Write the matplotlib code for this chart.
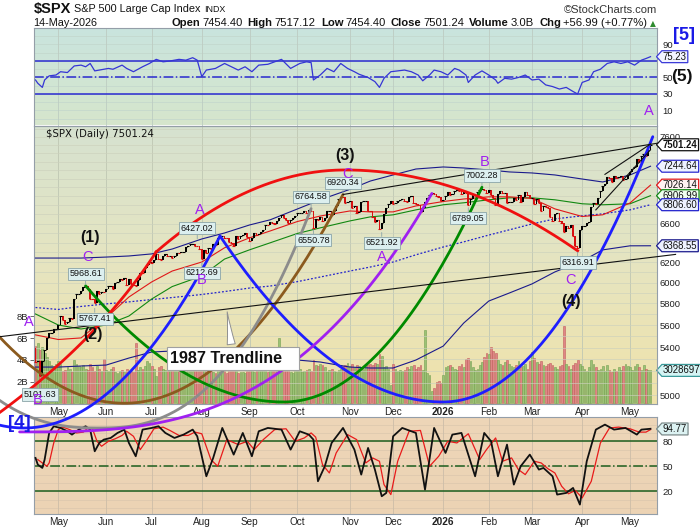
import numpy as np
import pandas as pd
import matplotlib
matplotlib.use("Agg")
import matplotlib.pyplot as plt
import matplotlib.transforms as mtransforms
from matplotlib.path import Path
from matplotlib.ticker import FixedLocator, NullLocator

# ---------------- data ----------------
HOLIDAYS = ["2025-04-18", "2025-05-26", "2025-06-19", "2025-07-04", "2025-09-01",
            "2025-11-27", "2025-12-25", "2026-01-01", "2026-01-19", "2026-02-16",
            "2026-04-03", "2026-05-25"]
ORIGIN = "2025-05-01"
START, END = "2025-04-16", "2026-05-14"
PREV_CLOSE = 5396.98

CLOSE = [
    # Apr 2025
    5275.70, 5282.70, 5158.20, 5287.76, 5375.86, 5484.77, 5525.21, 5528.75, 5560.83, 5569.06,
    # May
    5604.14, 5686.67, 5650.38, 5606.91, 5631.28, 5663.94, 5659.91, 5844.19, 5886.55, 5892.58,
    5916.93, 5958.38, 5963.60, 5940.46, 5844.61, 5842.01, 5802.82, 5921.54, 5888.55, 5912.17, 5911.69,
    # Jun
    5935.94, 5970.37, 5970.81, 5939.30, 6000.36, 6005.88, 6038.81, 6022.24, 6045.26, 5976.97,
    6033.11, 5982.72, 5980.87, 5967.84, 6025.17, 6092.18, 6092.16, 6141.02, 6173.07, 6204.95,
    # Jul
    6198.01, 6227.42, 6279.35, 6229.98, 6225.52, 6263.26, 6280.46, 6259.75, 6268.56, 6243.76, 6263.70,
    6297.36, 6296.79, 6305.60, 6309.62, 6358.91, 6363.35, 6388.64, 6389.77, 6370.86, 6362.90, 6339.39,
    # Aug
    6238.01, 6329.94, 6299.19, 6345.06, 6340.00, 6389.45, 6373.45, 6445.76, 6466.58, 6468.54, 6449.80,
    6449.15, 6411.37, 6395.78, 6370.17, 6466.91, 6439.32, 6465.94, 6481.40, 6501.86, 6460.26,
    # Sep
    6415.54, 6448.26, 6502.08, 6481.50, 6495.15, 6512.61, 6532.04, 6587.47, 6584.29, 6615.28, 6606.76,
    6600.35, 6631.96, 6664.36, 6693.75, 6656.92, 6637.97, 6604.72, 6643.70, 6661.21, 6688.46,
    # Oct
    6711.20, 6715.35, 6715.79, 6740.28, 6714.59, 6753.72, 6735.11, 6552.51, 6654.72, 6644.31, 6671.06,
    6629.07, 6664.01, 6735.13, 6735.35, 6699.40, 6738.44, 6791.69, 6875.16, 6890.89, 6890.59, 6822.34, 6840.20,
    # Nov
    6851.97, 6771.55, 6796.29, 6720.32, 6728.80, 6832.43, 6846.61, 6850.92, 6737.49, 6734.11,
    6672.41, 6617.32, 6642.16, 6538.76, 6602.99, 6705.12, 6765.88, 6812.61, 6849.09,
    # Dec
    6812.63, 6829.37, 6849.72, 6857.12, 6870.40, 6846.51, 6840.51, 6886.68, 6901.00, 6827.41, 6816.51,
    6800.26, 6721.43, 6774.76, 6834.50, 6878.49, 6909.79, 6932.05, 6929.94, 6905.74, 6896.24, 6845.50,
    # Jan 2026
    6858, 6900, 6945, 6920, 6925, 6965, 6975, 6960, 6925, 6945, 6940, 6800, 6875, 6915, 6915, 6950,
    6975, 6980, 6970, 6940,
    # Feb
    6975, 6915, 6880, 6800, 6930, 6965, 6940, 6940, 6830, 6835, 6840, 6880, 6860, 6910, 6840, 6890,
    6945, 6910, 6880,
    # Mar
    6880, 6815, 6870, 6830, 6740, 6795, 6780, 6775, 6670, 6630, 6700, 6715, 6625, 6610, 6510, 6580,
    6555, 6590, 6475, 6370, 6345, 6530,
    # Apr
    6575, 6580, 6610, 6615, 6785, 6825, 6815, 6885, 6965, 7020, 7040, 7125, 7105, 7065, 7135, 7110,
    7120, 7130, 7090, 7100, 7140,
    # May
    7180, 7215, 7240, 7330, 7300, 7360, 7390, 7365, 7440, 7501.24,
]

VOLUME_B = [
    5.3, 5.6, 4.9, 5.2, 4.6, 4.3, 3.9, 3.5, 3.4, 3.6,
    3.9, 3.6, 3.0, 3.1, 3.3, 3.2, 2.9, 4.0, 3.6, 3.4, 3.3, 3.5, 3.2, 3.1, 3.6, 3.3, 3.0, 3.4, 3.2, 3.0, 4.1,
    3.1, 3.0, 3.2, 3.3, 2.9, 2.8, 3.0, 3.1, 2.9, 3.2, 2.9, 3.0, 2.9, 5.6, 3.1, 3.3, 3.2, 3.4, 3.9, 3.7,
    3.4, 3.2, 2.5, 3.3, 3.4, 3.2, 3.1, 3.0, 3.1, 3.3, 3.2, 3.4, 3.7, 3.2, 3.3, 3.5, 3.2, 3.1, 3.0, 3.2, 3.3, 3.9,
    4.0, 3.3, 3.2, 3.1, 3.0, 2.9, 2.8, 3.2, 3.1, 3.3, 3.2, 2.8, 3.3, 3.1, 3.2, 3.3, 2.8, 2.9, 2.9, 2.8, 3.0,
    3.3, 3.1, 2.9, 3.2, 3.1, 3.4, 3.3, 3.0, 2.9, 3.1, 3.2, 3.4, 3.1, 6.0, 3.1, 3.2, 3.3, 3.2, 2.9, 2.8, 3.1,
    3.3, 3.2, 2.9, 3.0, 3.1, 3.2, 3.0, 4.0, 3.5, 3.4, 3.6, 3.5, 3.3, 2.9, 3.1, 3.2, 3.0, 2.9, 3.1, 3.2, 3.4, 3.5, 3.7,
    3.4, 3.6, 3.3, 3.5, 3.4, 3.3, 3.2, 3.4, 3.5, 3.6, 3.5, 3.7, 3.6, 4.5, 4.4, 3.3, 3.4, 3.2, 1.7,
    3.6, 3.2, 3.0, 3.1, 3.0, 3.1, 3.3, 3.2, 3.4, 3.5, 3.2, 3.3, 3.5, 3.1, 6.8, 2.8, 2.6, 1.1, 1.4, 2.0, 2.1, 1.9,
    2.6, 3.3, 3.4, 3.5, 3.3, 3.2, 3.1, 3.4, 3.6, 3.3, 4.1, 4.2, 3.9, 3.3, 3.1, 3.2, 3.5, 3.8, 4.3, 4.6,
    4.5, 5.2, 4.8, 4.6, 4.0, 3.6, 3.5, 3.8, 4.0, 3.6, 3.4, 3.3, 3.5, 3.9, 3.3, 3.4, 3.6, 3.2, 3.9,
    4.7, 4.2, 3.8, 3.6, 3.9, 3.5, 3.4, 3.6, 3.7, 3.5, 3.3, 3.2, 3.4, 3.5, 7.1, 3.6, 3.4, 3.2, 3.5, 3.7, 4.0, 3.6,
    3.4, 3.2, 3.0, 3.3, 4.0, 3.6, 3.3, 3.1, 3.2, 3.4, 3.0, 3.5, 3.1, 2.9, 3.2, 3.0, 3.3, 3.1, 3.4, 3.6, 3.4,
    3.3, 3.1, 3.4, 3.6, 3.3, 3.1, 3.5, 3.2, 3.1, 3.03,
]

MA_DATES = ["2025-04-16", "2025-05-01", "2025-05-15", "2025-06-02", "2025-06-16", "2025-07-01",
            "2025-07-15", "2025-08-01", "2025-08-15", "2025-09-02", "2025-09-15", "2025-10-01",
            "2025-10-15", "2025-11-03", "2025-11-14", "2025-12-01", "2025-12-15", "2026-01-02",
            "2026-01-15", "2026-02-02", "2026-02-13", "2026-03-02", "2026-03-16", "2026-04-01",
            "2026-04-15", "2026-05-01", "2026-05-14"]
MA_RED = [5512, 5471, 5485, 5666, 5861, 6006, 6113, 6203, 6348, 6451, 6523, 6624, 6683, 6738,
          6728, 6728, 6793, 6842, 6870, 6894, 6894, 6876, 6761, 6678, 6696, 6826, 7026.14]
MA_GREEN = [5702, 5601, 5565, 5601, 5683, 5842, 5961, 6064, 6233, 6327, 6399, 6497, 6556, 6630,
            6674, 6696, 6750, 6806, 6828, 6861, 6883, 6883, 6861, 6817, 6806, 6817, 6906.99]
SMA200 = [5762, 5744, 5772, 5796, 5815, 5837, 5856, 5885, 5913, 5947, 5966, 6009, 6054, 6113,
          6153, 6203, 6276, 6356, 6409, 6480, 6535, 6598, 6652, 6685, 6707, 6750, 6806.60]
BB_UPPER = [6243, 6243, 6243, 6253, 6264, 6285, 6335, 6439, 6502, 6587, 6642, 6760, 6861, 6978,
            7073, 7143, 7212, 7236, 7224, 7201, 7178, 7166, 7143, 7096, 7062, 7143, 7244.64]
BB_LOWER = [5232, 5232, 5241, 5249, 5309, 5361, 5370, 5370, 5361, 5335, 5318, 5292, 5275, 5232,
            5224, 5224, 5292, 5413, 5619, 5823, 5899, 5987, 6104, 6213, 6326, 6368, 6368.55]

# RSI(14): trading days after 2025-05-01, value
RSI_DAY = [-10, -9, -7, -6, -4, -1, 1, 4, 7, 10, 12, 14, 16, 18, 22, 24, 28, 30, 33, 37,
           40, 43, 46, 49, 53, 56, 59, 61, 63, 65, 69, 73, 76, 79, 82, 85, 88, 92, 95, 98,
           102, 106, 109, 111, 112, 115, 118, 121, 124, 127, 130, 132, 136, 139, 141, 143, 146, 149, 152, 155,
           158, 160, 163, 165, 168, 171, 174, 176, 179, 180, 183, 186, 189, 192, 193, 196, 199, 202, 205, 208,
           211, 214, 217, 220, 223, 226, 228, 230, 233, 235, 238, 241, 244, 247, 250, 253, 256, 258, 260]
RSI_VAL = [47, 43, 38, 47, 52, 53, 57, 56, 64, 65, 63, 67, 58, 59, 61, 60, 65, 61, 57, 63,
           67, 72, 69, 70, 72, 71, 74, 71, 51, 59, 61, 67, 63, 59, 63, 57, 65, 66, 69, 72,
           61, 67, 69, 68, 47, 53, 61, 57, 67, 61, 57, 54, 50, 45, 38, 49, 57, 58, 59, 57,
           53, 46, 53, 59, 57, 53, 61, 59, 53, 44, 53, 58, 53, 47, 43, 49, 48, 50, 53, 47,
           48, 41, 39, 36, 38, 33, 30, 44, 47, 57, 60, 67, 69, 67, 69, 65, 71, 73, 75.23]

# Full stochastics %K (black) and %D (red)
K_DAY = [-10, -9, -7, -6, -4, -2, 1, 4, 6, 9, 12, 14, 16, 18, 20, 23, 26, 29, 31, 34,
         37, 41, 44, 47, 51, 55, 59, 61, 65, 68, 72, 77, 81, 85, 88, 92, 98, 102, 106, 110,
         112, 114, 117, 120, 125, 130, 133, 136, 139, 142, 144, 147, 151, 157, 161, 165, 170, 173, 177, 183,
         187, 190, 193, 197, 200, 203, 207, 211, 213, 217, 219, 223, 226, 229, 232, 236, 240, 244, 249, 254,
         256, 260]
K_VAL = [60, 52, 48, 58, 90, 98, 96, 92, 88, 94, 98, 94, 68, 78, 82, 84, 90, 94, 78, 62,
         94, 96, 98, 90, 84, 88, 94, 86, 38, 60, 96, 64, 90, 62, 92, 96, 94, 70, 92, 88,
         82, 32, 50, 78, 96, 70, 40, 72, 46, 14, 18, 86, 96, 90, 22, 96, 66, 88, 90, 38,
         90, 80, 38, 76, 28, 50, 64, 46, 48, 38, 16, 18, 24, 4, 56, 94, 100, 94, 96, 88,
         94, 95]
D_DAY = [-9, -7, -5, -4, -2, 0, 2, 5, 8, 11, 13, 15, 17, 19, 22, 25, 28, 30, 33, 36,
         39, 42, 46, 49, 53, 57, 60, 63, 67, 70, 74, 79, 83, 86, 90, 95, 100, 104, 108, 111,
         113, 116, 119, 122, 127, 131, 135, 138, 141, 143, 146, 149, 154, 159, 163, 167, 171, 175, 180, 185,
         188, 192, 195, 199, 202, 205, 209, 212, 215, 218, 221, 224, 227, 230, 234, 238, 242, 246, 251, 255,
         258, 260]
D_VAL = [58, 54, 50, 54, 78, 94, 97, 94, 90, 91, 96, 95, 80, 74, 80, 83, 87, 92, 86, 70,
         82, 95, 97, 93, 87, 87, 91, 89, 58, 50, 82, 76, 80, 70, 82, 94, 95, 80, 84, 90,
         85, 52, 42, 66, 88, 82, 54, 60, 56, 28, 16, 56, 92, 93, 50, 62, 80, 78, 89, 58,
         70, 84, 56, 60, 46, 40, 56, 54, 47, 42, 26, 17, 21, 12, 32, 78, 96, 97, 95, 91,
         91, 94]

# value call-outs: date, value, side
CALLOUTS = [("2025-04-21", 5101.63, -1), ("2025-05-19", 5968.61, 1), ("2025-05-23", 5767.41, -1),
            ("2025-07-30", 6427.02, 1), ("2025-08-01", 6212.69, -1), ("2025-10-09", 6764.58, 1),
            ("2025-10-10", 6550.78, -1), ("2025-10-29", 6920.34, 1), ("2025-11-21", 6521.92, -1),
            ("2026-01-28", 7002.28, 1), ("2026-01-20", 6789.05, -1), ("2026-03-30", 6316.91, -1)]

# Elliott wave labels (text, date, price level, kind)
WAVES = [("(1)", "2025-05-21", 6451, "n"), ("C", "2025-05-20", 6256, "l"), ("A", "2025-04-11", 5624, "l"),
         ("B", "2025-04-17", 4958, "l"), ("(2)", "2025-05-22", 5512, "n"), ("A", "2025-07-31", 6745, "l"),
         ("B", "2025-08-01", 6028, "l"), ("(3)", "2025-10-30", 7376, "n"), ("C", "2025-10-31", 7155, "l"),
         ("A", "2025-11-21", 6256, "l"), ("B", "2026-01-29", 7297, "l"), ("C", "2026-03-25", 6028, "l"),
         ("(4)", "2026-03-25", 5815, "n")]

# cycle arcs: colour, left end, vertex, right end, exponent
ARCS = [("#8b5a1e", ("2025-03-25", 5498), ("2025-06-12", 4934), ("2025-10-29", 6920.34), 2.0),
        ("#8c8c8c", ("2025-03-25", 4960), ("2025-05-28", 4740), ("2025-10-09", 6764.58), 2.5),
        ("#008a00", ("2025-05-19", 5968.61), ("2025-09-23", 4944), ("2026-01-28", 7002.28), 2.0),
        ("#1e1eff", ("2025-03-25", 4763), ("2025-04-09", 4740), ("2025-08-13", 6470), 2.0),
        ("#1e1eff", ("2025-08-13", 6470), ("2026-01-02", 4944), ("2026-05-15", 7600), 2.0),
        ("#a020f0", None, ("2025-04-07", 4710), ("2025-12-24", 6932), 3.0)]
RED_RISE = [("2025-03-25", 4857), ("2025-05-28", 5471), ("2025-07-03", 6306)]
RED_DOME = [("2025-07-03", 6306), ("2025-10-30", 7201), ("2026-03-30", 6316.91)]

TRENDLINES = [(("2025-03-25", 5495), ("2026-06-01", 6280)),
              (("2025-10-29", 6920.34), ("2026-05-19", 7520)),
              (("2026-04-16", 7150), ("2026-05-14", 7510)),
              (("2026-04-10", 6750), ("2026-05-14", 7440))]

PRICE_TICKS = [5000, 5400, 5600, 5800, 6000, 6200, 6600, 7600]
RSI_TICKS = [10, 30, 50, 90]
STO_TICKS = [20, 50, 80]

# ---------------- helpers ----------------
W, H = 700, 530
FONT = ['Liberation Sans', 'DejaVu Sans']
NARROW = ['Liberation Sans Narrow', 'Liberation Sans', 'DejaVu Sans']
plt.rcParams['font.family'] = FONT


def fx(px):
    return px / W


def fy(py):
    return 1 - py / H


def tday(d):
    return np.busday_count(ORIGIN, np.datetime64(d, 'D'), holidays=HOLIDAYS)


def tdays(ds):
    return np.array([tday(d) for d in ds])


days = pd.bdate_range(START, END)
days = days[~days.isin(pd.to_datetime(HOLIDAYS))]
N = min(len(days), len(CLOSE), len(VOLUME_B))
days = days[:N]
xs = tdays([d.strftime("%Y-%m-%d") for d in days])
close = np.array(CLOSE[:N], float)
opens = np.r_[PREV_CLOSE, close[:-1]]
up = close >= opens
vol = np.array(VOLUME_B[:N], float)

ser = pd.Series(days)
firsts = ser.groupby([ser.dt.year, ser.dt.month]).first().iloc[1:]
mt_x = tdays([d.strftime("%Y-%m-%d") for d in firsts])
mt_lab = ["2026" if d.month == 1 else d.strftime("%b") for d in firsts]

XMIN, XMAX = -10.84, 262.85
L, R = 33.6, 657

fig = plt.figure(figsize=(7, 5.3), dpi=100)
fig.patch.set_facecolor('white')


def panel(top, bot, z=1):
    return fig.add_axes([fx(L), fy(bot), fx(R) - fx(L), (bot - top) / H], zorder=z)


def gradient(top, bot, stops):
    bg = panel(top, bot, z=-5)
    cols = np.array(stops, float) / 255.0
    t = np.linspace(0, 1, 100)
    pos = np.linspace(0, 1, len(cols))
    img = np.stack([np.interp(t, pos, cols[:, k]) for k in range(3)], axis=1)[:, None, :]
    bg.imshow(img, extent=(0, 1, 0, 1), aspect='auto', interpolation='bilinear')
    bg.set_xlim(0, 1); bg.set_ylim(0, 1)
    bg.axis('off')


gradient(28, 125.5, [(201, 228, 222), (214, 230, 204)])
gradient(125.5, 404, [(214, 226, 208), (230, 229, 192), (240, 226, 170)])
gradient(416.7, 514, [(238, 214, 184), (236, 211, 180)])

ax_rsi = panel(28, 125.5, z=1)
ax_v = panel(125.5, 404, z=1)
ax = panel(125.5, 404, z=3)
ax_st = panel(416.7, 514, z=2)
SPINE = (0.58, 0.62, 0.66)
for a in (ax_rsi, ax_v, ax, ax_st):
    a.set_facecolor('none')
    a.set_xlim(XMIN, XMAX)
    for s in a.spines.values():
        s.set_color(SPINE); s.set_linewidth(0.8)
    a.tick_params(axis='both', which='both', labelsize=6.8, length=0, colors='#222222')
    a.xaxis.set_major_locator(FixedLocator(mt_x))
    a.set_xticklabels([])
ax_v.spines[:].set_visible(False)

for a, c in ((ax_rsi, (0.74, 0.80, 0.76)), (ax_v, (0.75, 0.78, 0.70)), (ax_st, (0.80, 0.74, 0.66))):
    for m in mt_x:
        a.axvline(m, color=c, lw=0.6, zorder=0.5)

# ---------------- RSI panel ----------------
ax_rsi.set_ylim(-8.2, 110)
for v in range(0, 111, 10):
    ax_rsi.axhline(v, color=(0.76, 0.84, 0.80), lw=0.5, zorder=0.4)
for v, ls in ((70, '-'), (30, '-'), (50, '-.')):
    ax_rsi.axhline(v, color='#2a2ad0', lw=1.1, ls=ls, zorder=2)
ax_rsi.plot(RSI_DAY, RSI_VAL, color='#3535d5', lw=0.9, zorder=3)
ax_rsi.yaxis.tick_right()
ax_rsi.yaxis.set_major_locator(FixedLocator(RSI_TICKS))
ax_rsi.tick_params(axis='y', pad=4)

# ---------------- main panel ----------------
ax.set_yscale('log')
ax.set_ylim(4928, 7739)
ax.yaxis.tick_right()
ax.yaxis.set_major_locator(FixedLocator(PRICE_TICKS))
ax.yaxis.set_minor_locator(NullLocator())
ax.set_yticklabels([str(v) for v in PRICE_TICKS])
ax.tick_params(axis='y', pad=2)
for v in range(4900, 7800, 100):
    ax.axhline(v, color=(0.80, 0.82, 0.74), lw=0.45, zorder=0.3)

ax_v.set_ylim(-0.065, 25.6)
vcol = np.where(up, '#9cc276', '#df8686')
vedge = np.where(up, '#74a052', '#c25e5e')
ax_v.bar(xs, vol, width=0.78, color=vcol, edgecolor=vedge, linewidth=0.4, zorder=2)
ax_v.yaxis.tick_left()
ax_v.yaxis.set_major_locator(FixedLocator([2, 4, 6, 8]))
ax_v.set_yticklabels(["2B", "4B", "6B", "8B"])
ax_v.tick_params(axis='y', length=3, width=0.6, color='#555555', pad=1)

mx = tdays(MA_DATES)
ax.plot(mx, BB_UPPER, color='#1a1a8c', lw=0.8, zorder=4)
ax.plot(mx, BB_LOWER, color='#1a1a8c', lw=0.8, zorder=4)
ax.plot(mx, SMA200, color='#2222cc', lw=0.9, ls=(0, (1.5, 1.5)), zorder=4)
ax.plot(mx, MA_GREEN, color='#118811', lw=0.8, zorder=4)
ax.plot(mx, MA_RED, color='#e01818', lw=0.8, zorder=4)

ccol = np.where(up, '#000000', '#d81010')
ax.bar(xs, close - opens, bottom=opens, width=0.75, color=ccol, linewidth=0, zorder=5)
ax.scatter(xs, close, marker='_', s=3, c=ccol, linewidths=0.8, zorder=5)


def lp(pt):
    return tday(pt[0]), np.log(pt[1])


def half(v, e, pw, n=80):
    t = np.linspace(0, 1, n)
    return v[0] + (e[0] - v[0]) * t, v[1] + (e[1] - v[1]) * t ** pw


for col, le, vx, re_, pw in ARCS:
    v = lp(vx)
    xr, yr = half(v, lp(re_), pw)
    if le is not None:
        xl, yl = half(v, lp(le), pw)
        xa = np.r_[xl[::-1], xr]; ya = np.r_[yl[::-1], yr]
    else:
        xa, ya = xr, yr
    ax.plot(xa, np.exp(ya), color=col, lw=2.0, zorder=6, clip_on=False, solid_capstyle='round')

p0, p1, p2 = [lp(p) for p in RED_RISE]
t = np.linspace(0, 1, 80)
bx = (1 - t) ** 2 * p0[0] + 2 * (1 - t) * t * p1[0] + t ** 2 * p2[0]
by = (1 - t) ** 2 * p0[1] + 2 * (1 - t) * t * p1[1] + t ** 2 * p2[1]
ax.plot(bx, np.exp(by), color='#f01010', lw=2.0, zorder=6, clip_on=False)
dl, dv, dr = [lp(p) for p in RED_DOME]
xl, yl = half(dv, dl, 2.0)
xr, yr = half(dv, dr, 2.0)
ax.plot(np.r_[xl[::-1], xr], np.exp(np.r_[yl[::-1], yr]), color='#f01010', lw=2.0, zorder=6, clip_on=False)

for a_, b_ in TRENDLINES:
    ax.plot([tday(a_[0]), tday(b_[0])], [a_[1], b_[1]], color='#111111', lw=0.8, zorder=6, clip_on=False)

(ta, tb) = TRENDLINES[0]
xa_, xb_ = tday(ta[0]), tday(tb[0])
xq = tday("2025-08-18")
pq = np.exp(np.log(ta[1]) + (np.log(tb[1]) - np.log(ta[1])) * (xq - xa_) / (xb_ - xa_))
ax.annotate("1987 Trendline   ", xy=(xq, pq), xycoords='data',
            xytext=(fx(233), fy(358.5)), textcoords='figure fraction',
            ha='center', va='center', fontsize=11.6, fontweight='bold', color='#111111', zorder=9,
            bbox=dict(boxstyle='square,pad=0.22', fc='white', ec='#a0a0a0', lw=0.8),
            arrowprops=dict(arrowstyle='wedge,tail_width=0.5,shrink_factor=0.4', fc='white', ec='#909090', lw=0.7))

for d, val, side in CALLOUTS:
    ax.annotate(f"{val:.2f}", xy=(tday(d), val), xycoords='data',
                xytext=(0, 8.5 * side), textcoords='offset points', ha='center', va='center',
                fontsize=6.5, color='#111111', zorder=9, annotation_clip=False,
                bbox=dict(boxstyle='square,pad=0.18', fc='#dcefef', ec='#8aa4a8', lw=0.6),
                arrowprops=dict(arrowstyle='-', color='#8aa4a8', lw=0.6, shrinkA=0, shrinkB=1))

PURPLE = '#a020f0'
for txt, d, p, kind in WAVES:
    if kind == "n":
        ax.text(tday(d), p, txt, ha='center', va='center', fontsize=11.5, fontweight='bold',
                color='#111111', zorder=9, clip_on=False, family=FONT)
    else:
        ax.text(tday(d), p, txt, ha='center', va='center', fontsize=10.5,
                color=PURPLE, zorder=9, clip_on=False, family=FONT)

ax.text(0.02, 0.968, "$SPX (Daily) 7501.24", transform=ax.transAxes, ha='left', va='center',
        fontsize=7.3, family=['DejaVu Sans'], color='#111111', zorder=9)

# ---------------- stochastics panel ----------------
ax_st.set_ylim(-7.3, 109.5)
for v in range(0, 110, 10):
    ax_st.axhline(v, color=(0.86, 0.78, 0.68), lw=0.5, zorder=0.4)
for v, ls in ((80, '-'), (20, '-'), (50, '-.')):
    ax_st.axhline(v, color='#1d5e1d', lw=1.1, ls=ls, zorder=2)
ax_st.plot(D_DAY, D_VAL, color='#e81a1a', lw=0.9, zorder=3)
ax_st.plot(K_DAY, K_VAL, color='#111111', lw=1.3, zorder=4)
ax_st.yaxis.tick_right()
ax_st.yaxis.set_major_locator(FixedLocator(STO_TICKS))
ax_st.tick_params(axis='y', pad=4)

for a in (ax, ax_st):
    a.set_xticklabels(mt_lab)
    a.tick_params(axis='x', labelsize=7.2, pad=2.5)
    for lab in a.get_xticklabels():
        if lab.get_text() == "2026":
            lab.set_fontweight('bold')


def tagbox(x0, y0, width, height, mutation_size):
    pad = 0.1 * mutation_size
    x0, y0 = x0 - pad, y0 - pad
    x1, y1 = x0 + width + 2 * pad, y0 + height + 2 * pad
    tip = 0.45 * (y1 - y0)
    return Path([(x0, y0), (x1, y0), (x1, y1), (x0, y1), (x0 - tip, (y0 + y1) / 2), (x0, y0)], closed=True)


def tag(a, val, txt, ec, fc, bold=False):
    tr = mtransforms.blended_transform_factory(a.transAxes, a.transData)
    a.annotate(txt, xy=(1.0, val), xycoords=tr, xytext=(4.2, 0), textcoords='offset points',
               ha='left', va='center', fontsize=6.9, fontweight='bold' if bold else 'normal',
               color='#111111', zorder=10, annotation_clip=False,
               bbox=dict(boxstyle=tagbox, fc=fc, ec=ec, lw=0.9))


tag(ax_rsi, 75.23, "75.23", '#3a3ad8', '#f2f4ff')
tag(ax, 7501.24, "7501.24", '#111111', '#ffffff', bold=True)
tag(ax, BB_UPPER[-1], f"{BB_UPPER[-1]:.2f}", '#2a2ad0', '#eef2ff')
tag(ax, MA_RED[-1], f"{MA_RED[-1]:.2f}", '#e01818', '#fff2f2')
tag(ax, MA_GREEN[-1], f"{MA_GREEN[-1]:.2f}", '#118811', '#f0fff0')
tag(ax, SMA200[-1], f"{SMA200[-1]:.2f}", '#2222cc', '#eef2ff')
tag(ax, BB_LOWER[-1], f"{BB_LOWER[-1]:.2f}", '#1a1a8c', '#eef2ff')
tag(ax_v, vol[-1], "3028697", '#3a9a9a', '#d4f4f4')
tag(ax_st, 94.77, "94.77", '#7a8a8a', '#dcf2f2')

fig.text(fx(684), fy(35.5), "[5]", ha='center', va='center', fontsize=13, fontweight='bold',
         color='#1a1ae6', family=NARROW)
fig.text(fx(682), fy(77), "(5)", ha='center', va='center', fontsize=12.5, fontweight='bold',
         color='#111111', family=FONT)
fig.text(fx(649), fy(111), "A", ha='center', va='center', fontsize=10.5, color=PURPLE, family=FONT)
fig.text(fx(19), fy(423.5), "[4]", ha='center', va='center', fontsize=13.5, fontweight='bold',
         color='#1a1ae6', family=NARROW, zorder=10)

# ---------------- header ----------------
fig.canvas.draw()
rend = fig.canvas.get_renderer()


def seq(x, y, parts):
    objs = []
    for txt, size, bold, gap in parts:
        t = fig.text(fx(x), fy(y), txt, fontsize=size, fontweight='bold' if bold else 'normal',
                     va='center', ha='left', color='#111111', family=FONT)
        w = t.get_window_extent(rend).width
        objs.append(t)
        x += w + gap
    return objs, x


seq(33.5, 9.5, [("$SPX", 10.5, True, 3), ("S&P 500 Large Cap Index", 7.8, False, 4), ("INDX", 6.4, False, 0)])
fig.text(fx(657), fy(10), "\u00a9StockCharts.com", ha='right', va='center', fontsize=8, color='#333333')
fig.text(fx(33.5), fy(23.5), "14-May-2026", ha='left', va='center', fontsize=7.8, color='#111111')
FS = 8.1
parts = [("Open", FS, True, 2), ("7454.40", FS, False, 5), ("High", FS, True, 2), ("7517.12", FS, False, 5),
         ("Low", FS, True, 2), ("7454.40", FS, False, 5), ("Close", FS, True, 2), ("7501.24", FS, False, 5),
         ("Volume", FS, True, 2), ("3.0B", FS, False, 5), ("Chg", FS, True, 2), ("+56.99 (+0.77%)", FS, False, 2)]
objs, xend = seq(0, 23.5, parts)
shift = 649 - xend
for o in objs:
    px_, py_ = o.get_position()
    o.set_position((px_ + fx(shift), py_))
fig.text(fx(653), fy(23.5), "\u25b2", ha='center', va='center', fontsize=5.5, color='#2e8b2e', family=['DejaVu Sans'])

fig.savefig("out.png", dpi=100)
